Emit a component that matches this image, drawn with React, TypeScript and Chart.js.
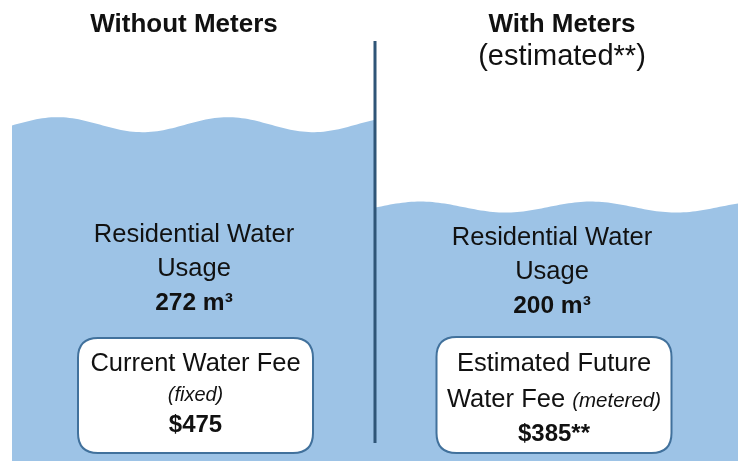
import React, { useEffect, useRef } from 'react';
import { Chart, registerables } from 'chart.js';

Chart.register(...registerables);

// ---- data ----
const categories = ['Without Meters', 'With Meters'];
const subtitles = ['', '(estimated**)'];
const usageValues = [272, 200];
const usageUnit = 'm³';
const usageLines = ['Residential Water', 'Usage'];
const feeTitleLines = [['Current Water Fee'], ['Estimated Future', 'Water Fee']];
const feeNotes = ['(fixed)', '(metered)'];
const feeLabels = ['$475', '$385**'];
const axisMin = -22;
const axisMax = 381;

// ---- style ----
const WATER = '#9dc3e6';
const DIVIDER = '#2f5577';
const BOX_BORDER = '#41719c';
const TEXT = '#111111';
const FONT = '"Liberation Sans", Arial, sans-serif';
const WAVE_AMP = [7.5, 5.5];
const TITLE_DX = [-9.5, 5.5];
const USAGE_DX = [0.5, -4.5];
const USAGE_Y = [242, 245];
const BOX_DX = [2, -2.5];
const BOX_W = 235;
const BOX_TOP = [338, 337];
const BOX_BOTTOM = 453;

function roundRect(ctx: CanvasRenderingContext2D, x: number, y: number, w: number, h: number, r: number) {
  ctx.beginPath();
  ctx.moveTo(x + r, y);
  ctx.lineTo(x + w - r, y);
  ctx.quadraticCurveTo(x + w, y, x + w, y + r);
  ctx.lineTo(x + w, y + h - r);
  ctx.quadraticCurveTo(x + w, y + h, x + w - r, y + h);
  ctx.lineTo(x + r, y + h);
  ctx.quadraticCurveTo(x, y + h, x, y + h - r);
  ctx.lineTo(x, y + r);
  ctx.quadraticCurveTo(x, y, x + r, y);
  ctx.closePath();
}

const infographicPlugin = {
  id: 'infographic',
  afterDatasetsDraw(chart: any) {
    const ctx: CanvasRenderingContext2D = chart.ctx;
    const meta = chart.getDatasetMeta(0);
    const bars = meta.data.map((b: any) => b.getProps(['x', 'y', 'width', 'base'], true));
    ctx.save();

    // wavy water bars
    bars.forEach((b: any, i: number) => {
      const left = b.x - b.width / 2;
      const N = 120;
      ctx.beginPath();
      ctx.moveTo(left, b.base);
      for (let k = 0; k <= N; k++) {
        const t = k / N;
        const px = left + t * b.width;
        const py = b.y - WAVE_AMP[i] * Math.sin((2 * Math.PI * (t - 0.0075)) / 0.47);
        ctx.lineTo(px, py);
      }
      ctx.lineTo(left + b.width, b.base);
      ctx.closePath();
      ctx.fillStyle = WATER;
      ctx.fill();
    });

    // divider
    const midX = (bars[0].x + bars[1].x) / 2;
    ctx.beginPath();
    ctx.moveTo(midX, 41);
    ctx.lineTo(midX, 443);
    ctx.strokeStyle = DIVIDER;
    ctx.lineWidth = 3;
    ctx.stroke();

    ctx.fillStyle = TEXT;
    ctx.textAlign = 'center';
    ctx.textBaseline = 'alphabetic';

    bars.forEach((b: any, i: number) => {
      // titles
      ctx.font = `bold 26px ${FONT}`;
      ctx.fillText(categories[i], b.x + TITLE_DX[i], 32);
      if (subtitles[i]) {
        ctx.font = `29px ${FONT}`;
        ctx.fillText(subtitles[i], b.x + TITLE_DX[i], 65);
      }

      // usage text
      const ux = b.x + USAGE_DX[i];
      ctx.font = `25.5px ${FONT}`;
      ctx.fillText(usageLines[0], ux, USAGE_Y[i]);
      ctx.fillText(usageLines[1], ux, USAGE_Y[i] + 34);
      ctx.font = `bold 24.5px ${FONT}`;
      ctx.fillText(`${usageValues[i]} ${usageUnit}`, ux, USAGE_Y[i] + 68);

      // fee box
      const bx = b.x + BOX_DX[i];
      const top = BOX_TOP[i];
      roundRect(ctx, bx - BOX_W / 2, top, BOX_W, BOX_BOTTOM - top, 20);
      ctx.fillStyle = '#ffffff';
      ctx.fill();
      ctx.strokeStyle = BOX_BORDER;
      ctx.lineWidth = 2;
      ctx.stroke();
      ctx.fillStyle = TEXT;

      const lines = feeTitleLines[i];
      if (lines.length === 1) {
        ctx.font = `25.5px ${FONT}`;
        ctx.fillText(lines[0], bx, 371);
        ctx.font = `italic 20px ${FONT}`;
        ctx.fillText(feeNotes[i], bx, 401);
        ctx.font = `bold 24px ${FONT}`;
        ctx.fillText(feeLabels[i], bx, 432);
      } else {
        ctx.font = `25.5px ${FONT}`;
        ctx.fillText(lines[0], bx, 371);
        const main = lines[1] + ' ';
        ctx.font = `25.5px ${FONT}`;
        const w1 = ctx.measureText(main).width;
        ctx.font = `italic 20.5px ${FONT}`;
        const w2 = ctx.measureText(feeNotes[i]).width;
        const start = bx - (w1 + w2) / 2;
        ctx.textAlign = 'left';
        ctx.font = `25.5px ${FONT}`;
        ctx.fillText(main, start, 407);
        ctx.font = `italic 20.5px ${FONT}`;
        ctx.fillText(feeNotes[i], start + w1, 407);
        ctx.textAlign = 'center';
        ctx.font = `bold 24px ${FONT}`;
        ctx.fillText(feeLabels[i], bx, 441);
      }
    });
    ctx.restore();
  },
};

export default function App() {
  const canvasRef = useRef<HTMLCanvasElement | null>(null);

  useEffect(() => {
    if (!canvasRef.current) return;
    const chart = new Chart(canvasRef.current, {
      type: 'bar',
      data: {
        labels: categories,
        datasets: [
          {
            label: 'Residential Water Usage (m³)',
            data: usageValues,
            base: axisMin,
            backgroundColor: 'rgba(0,0,0,0)',
            borderWidth: 0,
            categoryPercentage: 1,
            barPercentage: 1,
          } as any,
        ],
      },
      options: {
        animation: false,
        responsive: false,
        devicePixelRatio: 1,
        layout: { padding: { left: 12, right: 0, top: 0, bottom: 0 } },
        scales: {
          x: { display: false },
          y: { display: false, min: axisMin, max: axisMax },
        },
        plugins: {
          legend: { display: false },
          tooltip: { enabled: false },
          title: { display: false },
        },
      },
      plugins: [infographicPlugin],
    });
    return () => chart.destroy();
  }, []);

  return (
    <div style={{ position: 'absolute', left: 0, top: 0, width: 738, height: 461, background: '#ffffff' }}>
      <canvas ref={canvasRef} width={738} height={461} style={{ display: 'block' }} />
    </div>
  );
}
